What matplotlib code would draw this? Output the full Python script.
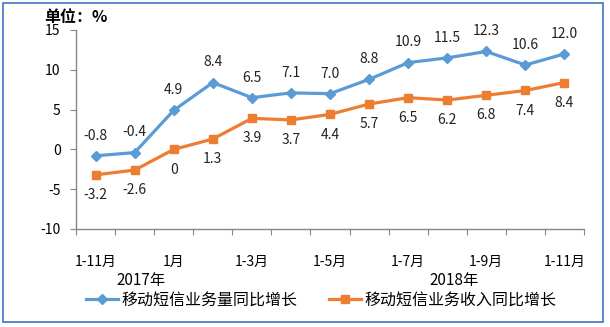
import matplotlib
matplotlib.use("Agg")
import matplotlib.pyplot as plt
from matplotlib.patches import Rectangle

plt.rcParams['font.family'] = ['Noto Sans CJK SC', 'DejaVu Sans']

categories = ["1-11月", "12月", "1月", "1-2月", "1-3月", "1-4月", "1-5月",
              "1-6月", "1-7月", "1-8月", "1-9月", "1-10月", "1-11月"]
shown_labels = ["1-11月", "", "1月", "", "1-3月", "", "1-5月", "", "1-7月", "", "1-9月", "", "1-11月"]
volume = [-0.8, -0.4, 4.9, 8.4, 6.5, 7.1, 7.0, 8.8, 10.9, 11.5, 12.3, 10.6, 12.0]
revenue = [-3.2, -2.6, 0, 1.3, 3.9, 3.7, 4.4, 5.7, 6.5, 6.2, 6.8, 7.4, 8.4]
vol_labels = ["-0.8", "-0.4", "4.9", "8.4", "6.5", "7.1", "7.0", "8.8", "10.9", "11.5", "12.3", "10.6", "12.0"]
rev_labels = ["-3.2", "-2.6", "0", "1.3", "3.9", "3.7", "4.4", "5.7", "6.5", "6.2", "6.8", "7.4", "8.4"]
series_names = ["移动短信业务量同比增长", "移动短信业务收入同比增长"]
yticks = [-10, -5, 0, 5, 10, 15]

W, H = 610, 327
fig = plt.figure(figsize=(W / 100, H / 100), dpi=100)
ax = fig.add_axes([76 / W, 1 - 229 / H, (584 - 76) / W, (229 - 30) / H])

blue = "#5B9BD5"
orange = "#ED7D31"
x = list(range(len(categories)))
ax.plot(x, volume, color=blue, lw=2.3, marker="D", ms=5, label=series_names[0])
ax.plot(x, revenue, color=orange, lw=2.3, marker="s", ms=6, label=series_names[1])

for xi, v, t in zip(x, volume, vol_labels):
    ax.annotate(t, (xi, v), xytext=(0, 14.5), textcoords="offset points",
                ha="center", va="center", fontsize=10, color="#222222")
for xi, v, t in zip(x, revenue, rev_labels):
    ax.annotate(t, (xi, v), xytext=(0, -14.5), textcoords="offset points",
                ha="center", va="center", fontsize=10, color="#222222")

ax.set_xlim(-0.5, len(categories) - 0.5)
ax.set_ylim(-10, 15)
ax.set_yticks(yticks)
ax.set_yticklabels([str(t) for t in yticks], fontsize=10)

ax.set_xticks([i - 0.5 for i in range(len(categories) + 1)])
ax.set_xticklabels([])
ax.set_xticks(x, minor=True)
ax.set_xticklabels(shown_labels, minor=True, fontsize=10)
ax.tick_params(axis="x", which="major", length=4, color="#868686", direction="out")
ax.tick_params(axis="x", which="minor", length=0, pad=19)
ax.tick_params(axis="y", length=4, color="#868686", pad=7)

for s in ["top", "right"]:
    ax.spines[s].set_visible(False)
for s in ["left", "bottom"]:
    ax.spines[s].set_color("#868686")
    ax.spines[s].set_linewidth(1)

fig.text(141 / W, 1 - 281 / H, "2017年", ha="center", va="center", fontsize=11)
fig.text(454 / W, 1 - 281 / H, "2018年", ha="center", va="center", fontsize=11)
fig.text(44 / W, 1 - 17 / H, "单位：%", ha="left", va="center", fontsize=11.5, fontweight="bold")

fig.legend(loc="center", bbox_to_anchor=(321 / W, 1 - 300 / H), ncol=2, frameon=False,
           fontsize=11.5, handlelength=2.0, columnspacing=2.0, handletextpad=0.2)

fig.patches.append(Rectangle((3 / W, 1 - 322 / H), 600 / W, 319 / H, transform=fig.transFigure,
                             fill=False, edgecolor="#4472C4", lw=1.2))

fig.savefig("out.png", dpi=100)
